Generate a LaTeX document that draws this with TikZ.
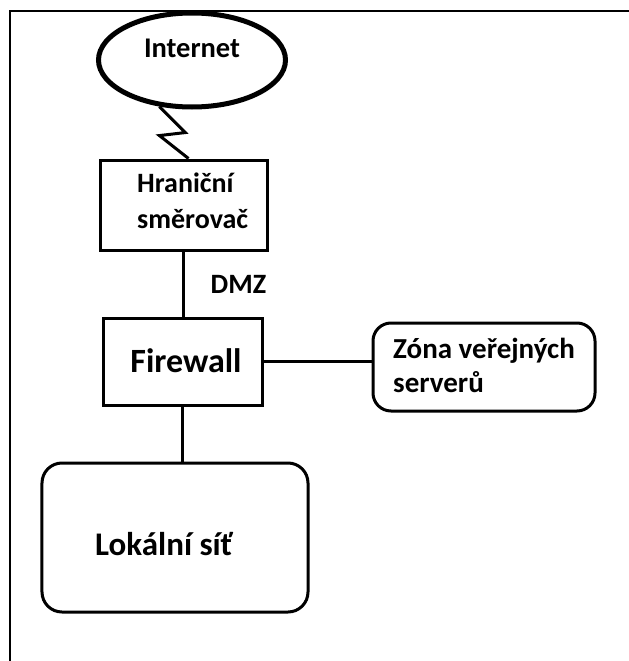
\documentclass[tikz,border=0pt]{standalone}
\usepackage{fontspec}
\setmainfont{Carlito}
\usetikzlibrary{shapes.geometric,calc}

\tikzset{
  netbox/.style={draw, line width=3bp, minimum width=#1, inner sep=0pt},
  roundbox/.style={draw, line width=3bp, rounded corners=#1, inner sep=0pt},
  cloud/.style={draw, ellipse, line width=5bp, inner sep=0pt},
  link/.style={line width=3bp},
  lbl/.style={inner sep=0pt, font=\bfseries},
}

\begin{document}
\begin{tikzpicture}[x=1bp, y=-1bp]
  \useasboundingbox (0,0) rectangle (629,661);

  % page frame (top and left edges only)
  \draw[line width=1.5bp] (9,11) -- (629,11);
  \draw[line width=2.5bp] (10,10.25) -- (10,661);

  % shapes
  \node[cloud, minimum width=187bp, minimum height=94bp] (internet) at (192,60) {};
  \node[netbox=167bp, minimum height=90bp] (router) at (183.5,205) {};
  \node[netbox=159bp, minimum height=87bp] (fw) at (182.5,361.5) {};
  \node[roundbox=18bp, minimum width=222bp, minimum height=88bp] (zone) at (484,367) {};
  \node[roundbox=20bp, minimum width=266bp, minimum height=149bp] (lan) at (175,537.5) {};

  % labels (multi-line labels are placed by the baseline of their last line)
  \node[lbl, anchor=base, font=\bfseries\fontsize{28.5bp}{34bp}\selectfont] (tinternet) at (192,58) {Internet};
  \node[lbl, anchor=base west, align=left, font=\bfseries\fontsize{28bp}{36bp}\selectfont] (trouter) at (137,228) {Hraniční\\směrovač};
  \node[lbl, anchor=base, font=\bfseries\fontsize{28bp}{32bp}\selectfont] (dmz) at (238.5,293) {DMZ};
  \node[lbl, anchor=base, font=\bfseries\fontsize{34bp}{38bp}\selectfont] (tfw) at (186,372) {Firewall};
  \node[lbl, anchor=base west, align=left, font=\bfseries\fontsize{29bp}{34bp}\selectfont] (tzone) at (393,392) {Zóna veřejných\\serverů};
  \node[lbl, anchor=base west, font=\bfseries\fontsize{33bp}{38bp}\selectfont] (tlan) at (95,555) {Lokální síť};

  % connectors
  \draw[link, line join=miter] (internet.235) -- ++(26,26) -- ++(-26,3) -- ([xshift=5bp]router.north);
  \draw[link] (router.south) -- (router.south |- fw.north);
  \draw[link] (fw.east) -- (fw.east -| zone.west);
  \draw[link] (fw.south) -- (fw.south |- lan.north);
\end{tikzpicture}
\end{document}
